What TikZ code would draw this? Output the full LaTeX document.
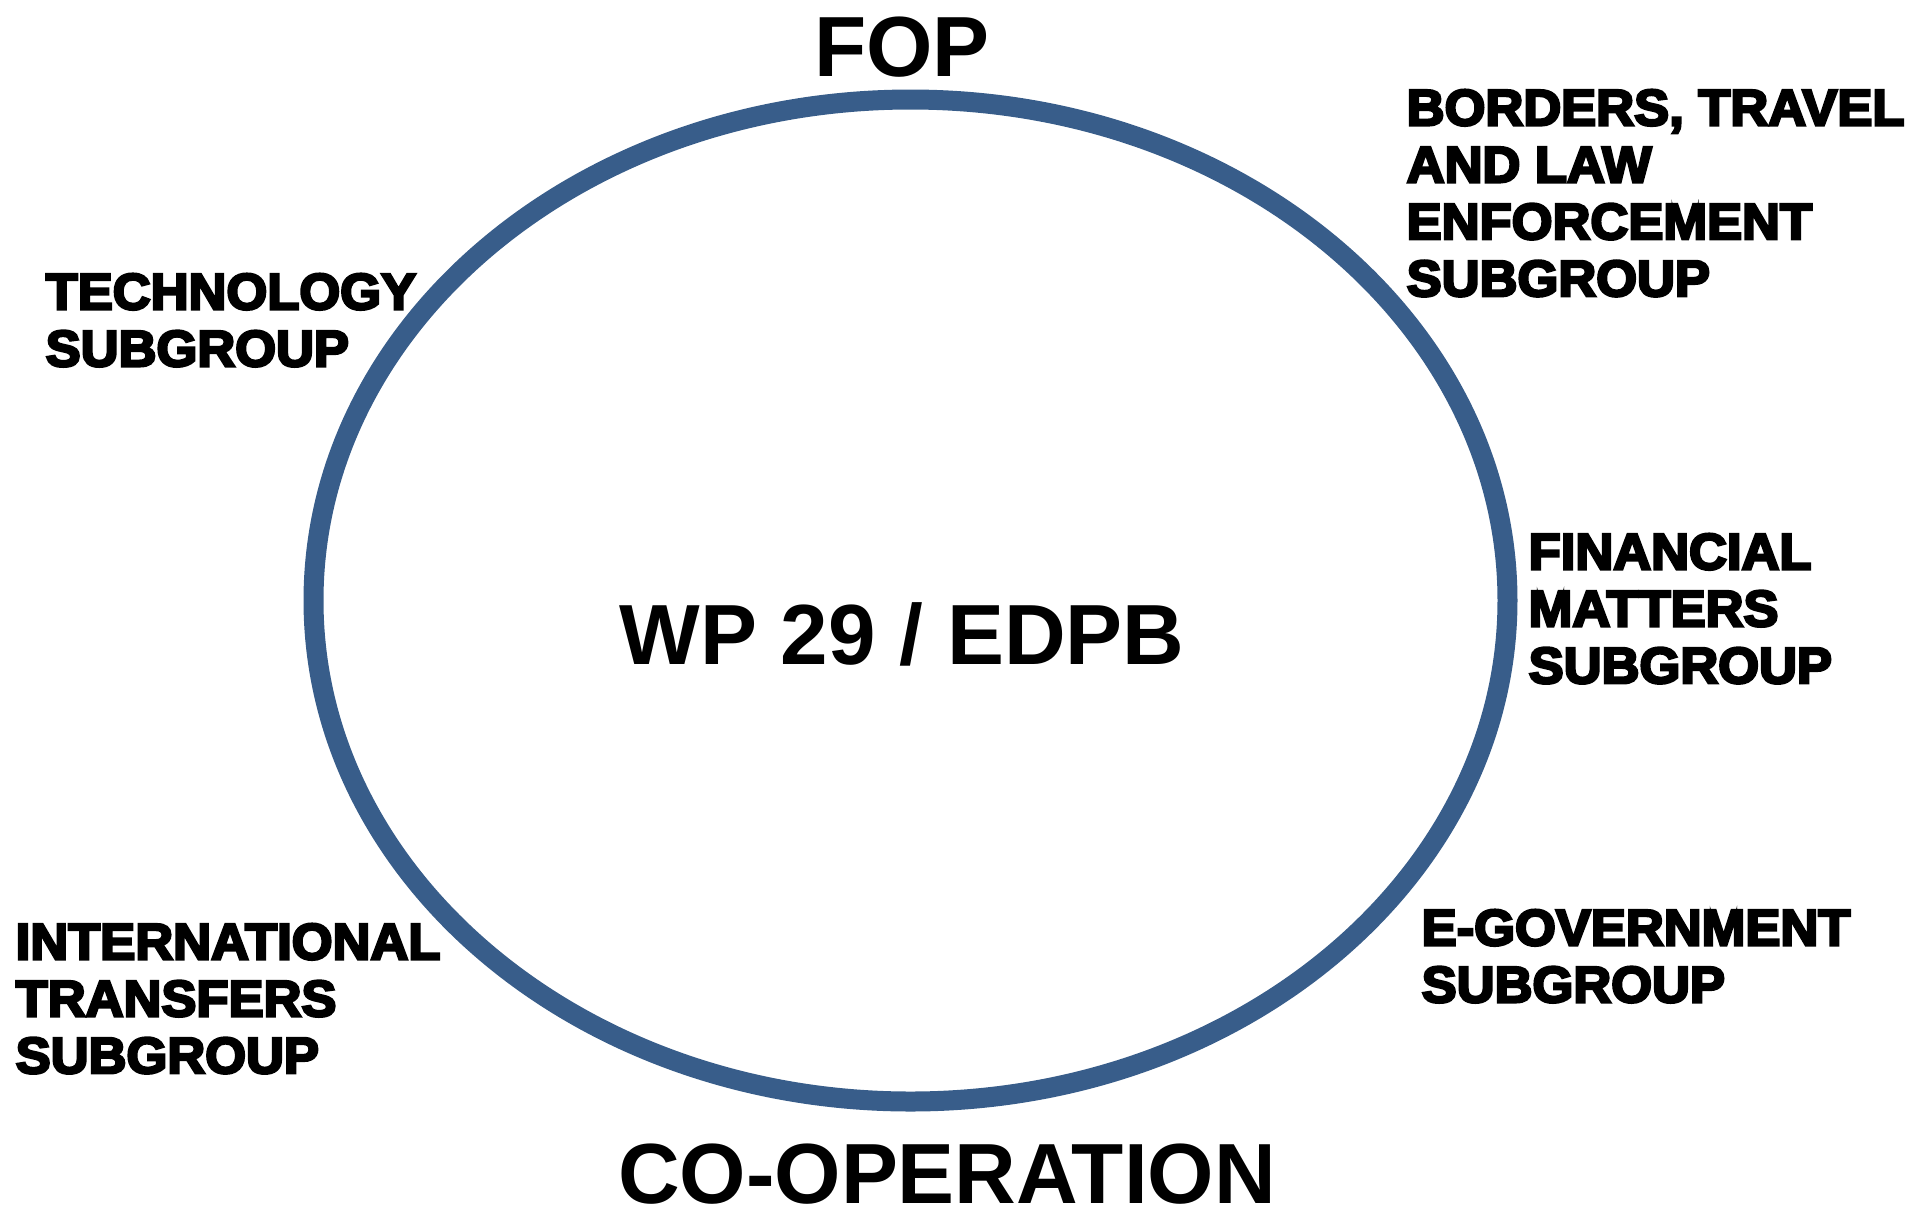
\documentclass[tikz,border=0pt]{standalone}
\usepackage{fontspec}
\setmainfont{Liberation Sans}
\newfontfamily\blackfont[FakeBold=5,FakeStretch=1.03]{Liberation Sans Bold}
\usetikzlibrary{shapes.geometric}
\definecolor{ringblue}{RGB}{56,93,138}
\tikzset{%
  % Specifications for style of nodes:
        ring/.style = {ellipse, draw=ringblue, line width=2mm,
                       minimum width=119.4mm, minimum height=100.2mm,
                       inner sep=0pt},
       title/.style = {anchor=north, inner sep=0pt,
                       font=\fontsize{24.3}{30}\selectfont\bfseries},
    subgroup/.style = {anchor=north west, inner sep=0pt, align=left,
                       font=\fontsize{14.5}{16.2}\selectfont\blackfont}
}

\begin{document}
\begin{tikzpicture}[x=0.1mm, y=-0.1mm]
  \useasboundingbox (0,0) rectangle (1917,1213);

  % Specification of nodes (position, etc.)
  \node (board)   [ring]      at (910.5,600.5) {};
  \node (fop)     [title]     at (902,16)   {FOP};
  \node (wp)      [title]     at (902,602)  {WP 29 / EDPB};
  \node (coop)    [title]     at (947,1143) {CO-OPERATION};

  % subgroups around the board
  \node (tech)    [subgroup]  at (45,273)   {TECHNOLOGY\\SUBGROUP};
  \node (borders) [subgroup]  at (1406,89)  {BORDERS, TRAVEL\\AND LAW\\ENFORCEMENT\\SUBGROUP};
  \node (finance) [subgroup]  at (1528,533) {FINANCIAL\\MATTERS\\SUBGROUP};
  \node (egov)    [subgroup]  at (1421,909) {E-GOVERNMENT\\SUBGROUP};
  \node (intl)    [subgroup]  at (15,923)   {INTERNATIONAL\\TRANSFERS\\SUBGROUP};
\end{tikzpicture}
\end{document}
